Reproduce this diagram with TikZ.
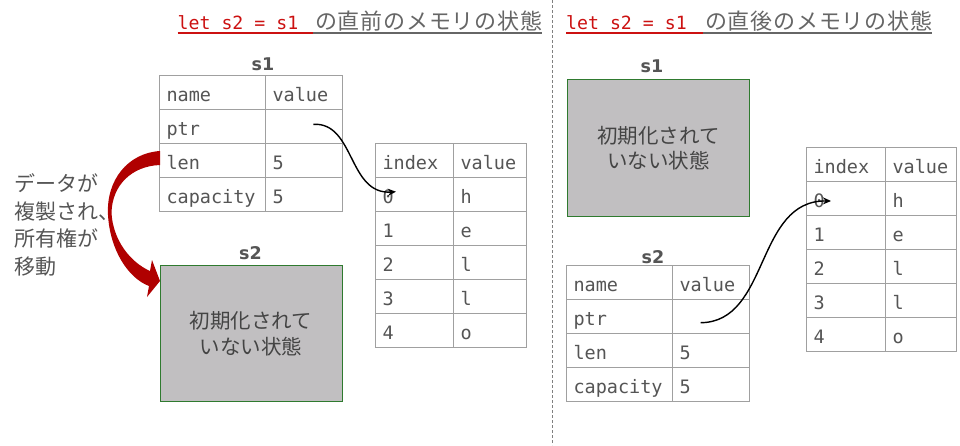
\documentclass[tikz,border=0pt]{standalone}
\usepackage{fontspec}
\setmainfont{Noto Sans}
\setmonofont{DejaVu Sans Mono}
\newfontfamily\jp{Noto Sans CJK JP}
\newfontfamily\jpt{Noto Sans CJK JP}[LetterSpace=3.5]
\newfontfamily\labfont{DejaVu Sans Bold}
\usetikzlibrary{arrows.meta}
\definecolor{txt}{HTML}{555555}
\definecolor{ttl}{HTML}{666666}
\definecolor{grid}{HTML}{A0A0A0}
\definecolor{boxfill}{HTML}{C1BFC1}
\definecolor{boxedge}{HTML}{2F7A2F}
\definecolor{redtxt}{HTML}{CC1111}
\definecolor{arrowred}{HTML}{B00000}
\begin{document}
\begin{tikzpicture}[x=1pt,y=-1pt,
  cell/.style={draw=grid, line width=1pt, outer sep=0pt, anchor=north west, inner xsep=7pt, inner ysep=0pt,
    minimum height=34pt, align=left, text=txt, font=\fontsize{18.5}{20}\ttfamily, text height=21pt, text depth=2.3pt},
  blank/.style={draw=boxedge, fill=boxfill, line width=0.9pt, align=center, text=txt!80!black,
    font=\jp\fontsize{20.5}{25.5}\selectfont, minimum width=182.3pt},
  lab/.style={text=txt, font=\labfont\fontsize{17.5}{20}\selectfont, inner sep=0pt},
  monotitle/.style={anchor=base west, inner sep=0pt, text=redtxt, font=\fontsize{18.2}{20}\ttfamily},
  jptitle/.style={anchor=base west, inner sep=0pt, text=ttl, font=\jpt\fontsize{22}{24}\selectfont},
  ptrarrow/.style={line width=1.4pt, -{Stealth[length=8pt,width=7pt]}},
  divider/.style={draw=grid!80!black, line width=1pt, dash pattern=on 3pt off 2pt}
]
\useasboundingbox[fill=white] (0,0) rectangle (960,445);

% divider
\coordinate (dtop) at (552,0);
\coordinate (dbot) at (552,445);
\draw[divider] (dtop) -- (dbot);

% titles
\node[monotitle] (t1a) at (177.5,29.3) {let s2 = s1};
\node[jptitle] (t1b) at (315,29.3) {の直前のメモリの状態};
\draw[redtxt, line width=1.5pt] ([yshift=-3.7pt]t1a.base west) -- ([yshift=-3.7pt,xshift=-2pt]t1b.base west);
\draw[ttl, line width=1.5pt] ([yshift=-3.7pt,xshift=-2pt]t1b.base west) -- ([yshift=-3.7pt]t1b.base east);

\node[monotitle] (t2a) at (566,29.3) {let s2 = s1};
\node[jptitle] (t2b) at (705,29.3) {の直後のメモリの状態};
\draw[redtxt, line width=1.5pt] ([yshift=-3.7pt]t2a.base west) -- ([yshift=-3.7pt,xshift=-2pt]t2b.base west);
\draw[ttl, line width=1.5pt] ([yshift=-3.7pt,xshift=-2pt]t2b.base west) -- ([yshift=-3.7pt]t2b.base east);

% ---------- left half ----------
\node[lab] (ls1lab) at (263,64.5) {s1};
\foreach \a/\b [count=\i from 0] in {name/value,ptr/{},len/5,capacity/5}{
  \node[cell, text width=92pt] (la\i) at (159.5,{75.5+34*\i}) {\a};
  \node[cell, text width=63pt] (lb\i) at (265.5,{75.5+34*\i}) {\b};
}
\foreach \a/\b [count=\i from 0] in {index/value,0/h,1/e,2/l,3/l,4/o}{
  \node[cell, text width=64pt] (lia\i) at (375.5,{143.5+34*\i}) {\a};
  \node[cell, text width=59pt] (lib\i) at (453.5,{143.5+34*\i}) {\b};
}
\node[lab] (ls2lab) at (250.5,253) {s2};
\node[blank, minimum height=136pt] (ls2) at (251.1,333.7) {初期化されて\\いない状態};

% red move arrow
\fill[arrowred] (160,151) .. controls (128,153) and (106,180) .. (108,215)
  .. controls (110,250) and (128,278) .. (149,286)
  -- (147,297) -- (160,281) -- (152,260) -- (150,271)
  .. controls (130,262) and (113,240) .. (111.5,213)
  .. controls (112,185) and (132,166) .. (160,165) -- cycle;

\node[anchor=west, align=left, text=txt, inner sep=0pt,
  font=\jp\fontsize{21}{27.8}\selectfont] (note) at (14,225) {データが\\複製され、\\所有権が\\移動};

% pointer arrow left
\coordinate (p1) at (313.3,124.3);
\coordinate (q1) at (396,191.7);
\draw[ptrarrow] (p1) .. controls (355,122) and (348,195) .. (q1);

% ---------- right half ----------
\node[lab] (rs1lab) at (652,66.5) {s1};
\node[blank, minimum height=137.4pt] (rs1) at (658.3,148) {初期化されて\\いない状態};

\node[lab] (rs2lab) at (653,257.5) {s2};
\foreach \a/\b [count=\i from 0] in {name/value,ptr/{},len/5,capacity/5}{
  \node[cell, text width=92pt] (ra\i) at (566.5,{265.5+34*\i}) {\a};
  \node[cell, text width=63pt] (rb\i) at (672.5,{265.5+34*\i}) {\b};
}
\foreach \a/\b [count=\i from 0] in {index/value,0/h,1/e,2/l,3/l,4/o}{
  \node[cell, text width=65pt] (ria\i) at (806.5,{147.5+34*\i}) {\a};
  \node[cell, text width=57pt] (rib\i) at (885.5,{147.5+34*\i}) {\b};
}

\coordinate (p2) at (700.7,322.7);
\coordinate (q2) at (831,201);
\draw[ptrarrow] (p2) .. controls (770,322) and (755,200) .. (q2);
\end{tikzpicture}
\end{document}
